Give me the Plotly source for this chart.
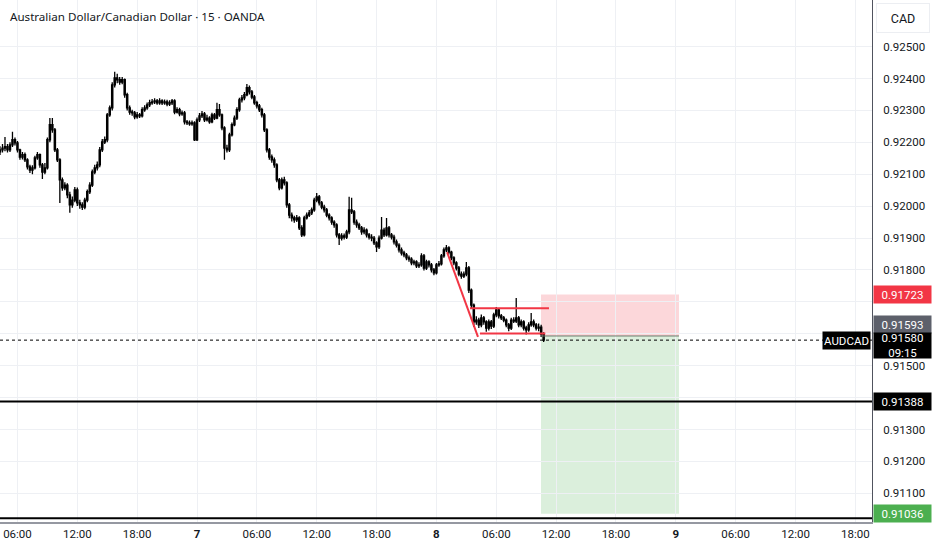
import pandas as pd
import plotly.graph_objects as go

# 15-minute AUDCAD candles, first bar 04:15 on day 6
FIRST_BAR = "2022-09-06 04:15"

opens = [
    0.92170, 0.92176, 0.92182, 0.92186, 0.92176, 0.92192, 0.92208, 0.92198, 0.92176, 0.92154,
    0.92161, 0.92145, 0.92123, 0.92113, 0.92120, 0.92151, 0.92161, 0.92129, 0.92107, 0.92120,
    0.92208, 0.92255, 0.92239, 0.92176, 0.92145, 0.92082, 0.92057, 0.92066, 0.92035, 0.92004,
    0.92019, 0.92051, 0.92010, 0.92004, 0.91997, 0.92019, 0.92045, 0.92066, 0.92107, 0.92120,
    0.92129, 0.92176, 0.92201, 0.92208, 0.92286, 0.92308, 0.92380, 0.92402, 0.92396, 0.92389,
    0.92396, 0.92349, 0.92308, 0.92295, 0.92292, 0.92280, 0.92286, 0.92283, 0.92302, 0.92308,
    0.92317, 0.92324, 0.92327, 0.92330, 0.92324, 0.92330, 0.92324, 0.92327, 0.92320, 0.92324,
    0.92330, 0.92295, 0.92302, 0.92289, 0.92292, 0.92264, 0.92261, 0.92258, 0.92261, 0.92208,
    0.92270, 0.92283, 0.92289, 0.92270, 0.92276, 0.92264, 0.92286, 0.92276, 0.92302, 0.92286,
    0.92245, 0.92182, 0.92176, 0.92223, 0.92255, 0.92276, 0.92302, 0.92333, 0.92339, 0.92349,
    0.92371, 0.92358, 0.92342, 0.92324, 0.92314, 0.92302, 0.92286, 0.92239, 0.92176, 0.92154,
    0.92145, 0.92129, 0.92082, 0.92057, 0.92082, 0.92073, 0.92004, 0.91972, 0.91963, 0.91957,
    0.91963, 0.91932, 0.91910, 0.91963, 0.91972, 0.91979, 0.91988, 0.92019, 0.92029, 0.92010,
    0.91997, 0.91988, 0.91972, 0.91963, 0.91950, 0.91941, 0.91910, 0.91900, 0.91907, 0.91903,
    0.91919, 0.91988, 0.91982, 0.91950, 0.91941, 0.91932, 0.91919, 0.91925, 0.91910, 0.91903,
    0.91900, 0.91885, 0.91872, 0.91900, 0.91925, 0.91910, 0.91932, 0.91910, 0.91903, 0.91888,
    0.91878, 0.91863, 0.91853, 0.91847, 0.91838, 0.91834, 0.91822, 0.91825, 0.91813, 0.91816,
    0.91844, 0.91806, 0.91825, 0.91816, 0.91800, 0.91791, 0.91816, 0.91819, 0.91844, 0.91863,
    0.91869, 0.91856, 0.91838, 0.91822, 0.91806, 0.91787, 0.91781, 0.91787, 0.91806, 0.91737,
    0.91690, 0.91637, 0.91643, 0.91628, 0.91650, 0.91637, 0.91618, 0.91637, 0.91624, 0.91659,
    0.91675, 0.91656, 0.91650, 0.91643, 0.91628, 0.91618, 0.91643, 0.91640, 0.91650, 0.91628,
    0.91637, 0.91618, 0.91612, 0.91628, 0.91637, 0.91628, 0.91618, 0.91621, 0.91599,
]

highs = [
    0.92188, 0.92195, 0.92217, 0.92195, 0.92200, 0.92233, 0.92215, 0.92204, 0.92180, 0.92170,
    0.92168, 0.92150, 0.92130, 0.92128, 0.92158, 0.92170, 0.92165, 0.92135, 0.92135, 0.92215,
    0.92276, 0.92276, 0.92245, 0.92182, 0.92150, 0.92090, 0.92075, 0.92072, 0.92045, 0.92030,
    0.92060, 0.92058, 0.92020, 0.92012, 0.92026, 0.92052, 0.92075, 0.92115, 0.92130, 0.92140,
    0.92185, 0.92210, 0.92218, 0.92292, 0.92315, 0.92388, 0.92421, 0.92415, 0.92405, 0.92405,
    0.92400, 0.92355, 0.92315, 0.92302, 0.92298, 0.92295, 0.92292, 0.92310, 0.92316, 0.92325,
    0.92333, 0.92336, 0.92338, 0.92336, 0.92338, 0.92335, 0.92334, 0.92333, 0.92332, 0.92336,
    0.92335, 0.92310, 0.92308, 0.92300, 0.92298, 0.92270, 0.92268, 0.92268, 0.92266, 0.92278,
    0.92292, 0.92298, 0.92295, 0.92286, 0.92282, 0.92293, 0.92292, 0.92324, 0.92320, 0.92290,
    0.92250, 0.92192, 0.92230, 0.92262, 0.92284, 0.92310, 0.92340, 0.92348, 0.92358, 0.92383,
    0.92378, 0.92364, 0.92348, 0.92330, 0.92320, 0.92308, 0.92292, 0.92244, 0.92182, 0.92162,
    0.92152, 0.92134, 0.92088, 0.92090, 0.92092, 0.92078, 0.92010, 0.91980, 0.91970, 0.91972,
    0.91968, 0.91940, 0.91970, 0.91980, 0.91988, 0.91996, 0.92026, 0.92041, 0.92035, 0.92016,
    0.92004, 0.91994, 0.91978, 0.91968, 0.91956, 0.91946, 0.91916, 0.91915, 0.91914, 0.91926,
    0.92029, 0.92026, 0.91988, 0.91958, 0.91948, 0.91938, 0.91934, 0.91930, 0.91916, 0.91912,
    0.91906, 0.91890, 0.91908, 0.91966, 0.91932, 0.91963, 0.91938, 0.91916, 0.91910, 0.91895,
    0.91884, 0.91870, 0.91860, 0.91853, 0.91845, 0.91840, 0.91832, 0.91830, 0.91824, 0.91852,
    0.91850, 0.91832, 0.91830, 0.91822, 0.91806, 0.91822, 0.91828, 0.91850, 0.91870, 0.91878,
    0.91874, 0.91860, 0.91843, 0.91827, 0.91812, 0.91795, 0.91795, 0.91825, 0.91812, 0.91742,
    0.91695, 0.91655, 0.91650, 0.91660, 0.91656, 0.91642, 0.91645, 0.91643, 0.91666, 0.91684,
    0.91680, 0.91662, 0.91656, 0.91648, 0.91634, 0.91650, 0.91652, 0.91712, 0.91656, 0.91645,
    0.91642, 0.91625, 0.91636, 0.91665, 0.91645, 0.91634, 0.91632, 0.91628, 0.91605,
]

lows = [
    0.92160, 0.92168, 0.92172, 0.92168, 0.92170, 0.92185, 0.92190, 0.92168, 0.92145, 0.92146,
    0.92138, 0.92115, 0.92104, 0.92100, 0.92115, 0.92145, 0.92120, 0.92085, 0.92100, 0.92115,
    0.92200, 0.92230, 0.92170, 0.92138, 0.92010, 0.92048, 0.92050, 0.92025, 0.91979, 0.91995,
    0.92012, 0.92000, 0.91992, 0.91988, 0.91990, 0.92012, 0.92038, 0.92060, 0.92100, 0.92112,
    0.92122, 0.92170, 0.92195, 0.92200, 0.92280, 0.92300, 0.92372, 0.92385, 0.92380, 0.92382,
    0.92340, 0.92300, 0.92286, 0.92283, 0.92272, 0.92274, 0.92276, 0.92278, 0.92296, 0.92302,
    0.92311, 0.92318, 0.92320, 0.92318, 0.92318, 0.92317, 0.92318, 0.92313, 0.92314, 0.92317,
    0.92288, 0.92290, 0.92282, 0.92283, 0.92256, 0.92254, 0.92252, 0.92252, 0.92204, 0.92204,
    0.92264, 0.92276, 0.92264, 0.92265, 0.92258, 0.92260, 0.92270, 0.92272, 0.92280, 0.92238,
    0.92145, 0.92168, 0.92170, 0.92218, 0.92250, 0.92270, 0.92296, 0.92325, 0.92332, 0.92344,
    0.92350, 0.92335, 0.92318, 0.92306, 0.92295, 0.92278, 0.92232, 0.92168, 0.92145, 0.92136,
    0.92120, 0.92075, 0.92050, 0.92052, 0.92065, 0.91995, 0.91962, 0.91952, 0.91948, 0.91950,
    0.91925, 0.91903, 0.91905, 0.91958, 0.91966, 0.91972, 0.91982, 0.92012, 0.92002, 0.91990,
    0.91980, 0.91965, 0.91955, 0.91942, 0.91932, 0.91902, 0.91878, 0.91892, 0.91895, 0.91897,
    0.91912, 0.91975, 0.91942, 0.91932, 0.91925, 0.91910, 0.91912, 0.91902, 0.91895, 0.91890,
    0.91878, 0.91856, 0.91866, 0.91895, 0.91903, 0.91905, 0.91902, 0.91895, 0.91880, 0.91870,
    0.91855, 0.91845, 0.91840, 0.91830, 0.91826, 0.91815, 0.91815, 0.91806, 0.91806, 0.91810,
    0.91798, 0.91800, 0.91808, 0.91792, 0.91783, 0.91786, 0.91810, 0.91814, 0.91838, 0.91856,
    0.91848, 0.91830, 0.91815, 0.91798, 0.91780, 0.91772, 0.91775, 0.91780, 0.91728, 0.91680,
    0.91621, 0.91628, 0.91618, 0.91620, 0.91628, 0.91606, 0.91610, 0.91615, 0.91618, 0.91652,
    0.91648, 0.91643, 0.91636, 0.91620, 0.91608, 0.91612, 0.91634, 0.91634, 0.91620, 0.91620,
    0.91610, 0.91598, 0.91606, 0.91622, 0.91620, 0.91610, 0.91608, 0.91590, 0.91574,
]

closes = [
    0.92176, 0.92182, 0.92186, 0.92176, 0.92192, 0.92208, 0.92198, 0.92176, 0.92154, 0.92161,
    0.92145, 0.92123, 0.92113, 0.92120, 0.92151, 0.92161, 0.92129, 0.92107, 0.92120, 0.92208,
    0.92255, 0.92239, 0.92176, 0.92145, 0.92082, 0.92057, 0.92066, 0.92035, 0.92004, 0.92019,
    0.92051, 0.92010, 0.92004, 0.91997, 0.92019, 0.92045, 0.92066, 0.92107, 0.92120, 0.92129,
    0.92176, 0.92201, 0.92208, 0.92286, 0.92308, 0.92380, 0.92402, 0.92396, 0.92389, 0.92396,
    0.92349, 0.92308, 0.92295, 0.92292, 0.92280, 0.92286, 0.92283, 0.92302, 0.92308, 0.92317,
    0.92324, 0.92327, 0.92330, 0.92324, 0.92330, 0.92324, 0.92327, 0.92320, 0.92324, 0.92330,
    0.92295, 0.92302, 0.92289, 0.92292, 0.92264, 0.92261, 0.92258, 0.92261, 0.92208, 0.92270,
    0.92283, 0.92289, 0.92270, 0.92276, 0.92264, 0.92286, 0.92276, 0.92302, 0.92286, 0.92245,
    0.92182, 0.92176, 0.92223, 0.92255, 0.92276, 0.92302, 0.92333, 0.92339, 0.92349, 0.92371,
    0.92358, 0.92342, 0.92324, 0.92314, 0.92302, 0.92286, 0.92239, 0.92176, 0.92154, 0.92145,
    0.92129, 0.92082, 0.92057, 0.92082, 0.92073, 0.92004, 0.91972, 0.91963, 0.91957, 0.91963,
    0.91932, 0.91910, 0.91963, 0.91972, 0.91979, 0.91988, 0.92019, 0.92029, 0.92010, 0.91997,
    0.91988, 0.91972, 0.91963, 0.91950, 0.91941, 0.91910, 0.91900, 0.91907, 0.91903, 0.91919,
    0.91988, 0.91982, 0.91950, 0.91941, 0.91932, 0.91919, 0.91925, 0.91910, 0.91903, 0.91900,
    0.91885, 0.91872, 0.91900, 0.91925, 0.91910, 0.91932, 0.91910, 0.91903, 0.91888, 0.91878,
    0.91863, 0.91853, 0.91847, 0.91838, 0.91834, 0.91822, 0.91825, 0.91813, 0.91816, 0.91844,
    0.91806, 0.91825, 0.91816, 0.91800, 0.91791, 0.91816, 0.91819, 0.91844, 0.91863, 0.91869,
    0.91856, 0.91838, 0.91822, 0.91806, 0.91787, 0.91781, 0.91787, 0.91806, 0.91737, 0.91690,
    0.91637, 0.91643, 0.91628, 0.91650, 0.91637, 0.91618, 0.91637, 0.91624, 0.91659, 0.91675,
    0.91656, 0.91650, 0.91643, 0.91628, 0.91618, 0.91643, 0.91640, 0.91650, 0.91628, 0.91637,
    0.91618, 0.91612, 0.91628, 0.91637, 0.91628, 0.91618, 0.91621, 0.91599, 0.91580,
]

# x-axis ticks
tick_times = ["2022-09-06 06:00", "2022-09-06 12:00", "2022-09-06 18:00", "2022-09-07 00:00",
              "2022-09-07 06:00", "2022-09-07 12:00", "2022-09-07 18:00", "2022-09-08 00:00",
              "2022-09-08 06:00", "2022-09-08 12:00", "2022-09-08 18:00", "2022-09-09 00:00",
              "2022-09-09 06:00", "2022-09-09 12:00", "2022-09-09 18:00"]
tick_text = ["06:00", "12:00", "18:00", "<b>7</b>", "06:00", "12:00", "18:00", "<b>8</b>",
             "06:00", "12:00", "18:00", "<b>9</b>", "06:00", "12:00", "18:00"]

# price scale
price_ticks = [0.911, 0.912, 0.913, 0.914, 0.915, 0.916, 0.917, 0.918,
               0.919, 0.920, 0.921, 0.922, 0.923, 0.924, 0.925]
hidden_ticks = [0.914, 0.916, 0.917]   # covered by the level labels

# drawing levels
last_price = 0.91580
entry = 0.91593
stop = 0.91723
target = 0.91036
support = 0.91388
bottom_line = 0.91022
pos_start, pos_end = "2022-09-08 10:29", "2022-09-09 00:19"
pole = [("2022-09-08 01:04", 0.91856), ("2022-09-08 04:10", 0.91590)]
flag_top = [("2022-09-08 03:22", 0.91680), ("2022-09-08 11:17", 0.91680)]
flag_bottom = [("2022-09-08 04:22", 0.91601), ("2022-09-08 10:55", 0.91601)]

times = pd.date_range(FIRST_BAR, periods=len(closes), freq="15min")

FONT = "Roboto, Noto Sans, sans-serif"
TXT = "#131722"
RED = "#f23645"

fig = go.Figure()
fig.add_trace(go.Candlestick(
    x=times, open=opens, high=highs, low=lows, close=closes,
    increasing=dict(line=dict(color="#000000", width=1.3), fillcolor="#ffffff"),
    decreasing=dict(line=dict(color="#000000", width=1.3), fillcolor="#000000"),
    whiskerwidth=0, hoverinfo="skip", showlegend=False,
))

shapes = [
    # position tool: risk (red) and reward (green)
    dict(type="rect", xref="x", yref="y", x0=pos_start, x1=pos_end, y0=entry, y1=stop,
         fillcolor="rgba(242,54,69,0.2)", line_width=0, layer="below"),
    dict(type="rect", xref="x", yref="y", x0=pos_start, x1=pos_end, y0=target, y1=entry,
         fillcolor="rgba(76,175,80,0.2)", line_width=0, layer="below"),
    dict(type="line", xref="x", yref="y", x0=pos_start, x1=pos_end, y0=entry, y1=entry,
         line=dict(color="#6b7a6b", width=1)),
    # horizontal levels
    dict(type="line", xref="paper", yref="y", x0=0, x1=1, y0=support, y1=support,
         line=dict(color="#000000", width=2)),
    dict(type="line", xref="paper", yref="y", x0=0, x1=1, y0=bottom_line, y1=bottom_line,
         line=dict(color="#000000", width=2)),
    dict(type="line", xref="paper", yref="y", x0=0, x1=1, y0=last_price, y1=last_price,
         line=dict(color="#000000", width=1, dash="dot")),
]
for seg in (pole, flag_top, flag_bottom):
    (xa, ya), (xb, yb) = seg
    shapes.append(dict(type="line", xref="x", yref="y", x0=xa, y0=ya, x1=xb, y1=yb,
                       line=dict(color=RED, width=2)))


def price_label(y, text, bg, yshift=0, height=15, fg="#ffffff"):
    return dict(xref="paper", yref="y", x=1, y=y, xanchor="left", yanchor="middle",
                xshift=1, yshift=yshift, text=text, showarrow=False,
                width=55, height=height, bgcolor=bg, align="center",
                font=dict(family=FONT, size=11.5, color=fg))


annotations = [
    dict(xref="paper", yref="paper", x=0, y=1, xanchor="left", yanchor="middle",
         xshift=8, yshift=-16, showarrow=False,
         text="Australian Dollar/Canadian Dollar · 15 · OANDA",
         font=dict(family="Noto Sans, sans-serif", size=11.6, color=TXT)),
    dict(xref="paper", yref="paper", x=1, y=1, xanchor="left", yanchor="top",
         xshift=4, yshift=-3, showarrow=False, text="CAD", width=50, height=26,
         bgcolor="#ffffff", bordercolor="#eceef2", borderwidth=1,
         font=dict(family=FONT, size=12.5, color=TXT)),
    price_label(stop, "0.91723", RED),
    price_label(entry, "0.91593", "#5d606b", yshift=11),
    price_label(last_price, "0.91580<br>09:15", "#000000", yshift=-5, height=23),
    price_label(support, "0.91388", "#000000"),
    price_label(target, "0.91036", "#4caf50"),
    dict(xref="paper", yref="y", x=1, y=last_price, xanchor="right", yanchor="middle",
         xshift=-1, text="AUDCAD", showarrow=False, bgcolor="#000000", height=15,
         font=dict(family=FONT, size=11.5, color="#ffffff")),
]

fig.update_layout(
    width=932, height=550, autosize=False,
    margin=dict(l=0, r=60, t=0, b=28, autoexpand=False),
    paper_bgcolor="#ffffff", plot_bgcolor="#ffffff",
    showlegend=False, hovermode=False,
    shapes=shapes, annotations=annotations,
    xaxis=dict(
        type="date", range=["2022-09-06 04:15", "2022-09-09 19:40"],
        rangeslider=dict(visible=False),
        tickvals=tick_times, ticktext=tick_text,
        showgrid=True, gridcolor="#eef0f4", gridwidth=1,
        showline=True, linecolor="#9598a1", linewidth=2,
        zeroline=False, ticks="", fixedrange=True,
        tickfont=dict(family=FONT, size=11.5, color=TXT),
    ),
    yaxis=dict(
        side="right", range=[0.9101, 0.92646],
        tickvals=price_ticks,
        ticktext=["" if v in hidden_ticks else f"{v:.5f}" for v in price_ticks],
        showgrid=True, gridcolor="#eef0f4", gridwidth=1,
        showline=True, linecolor="#50535e", linewidth=1,
        zeroline=False, ticks="", ticklabelstandoff=8, fixedrange=True,
        tickfont=dict(family=FONT, size=11.5, color=TXT),
    ),
)

# the page body has a default 8px margin; drop it so the chart sits at the window corner
fig.write_html("out.html", config={"displayModeBar": False},
               post_script="document.body.style.margin='0';")
